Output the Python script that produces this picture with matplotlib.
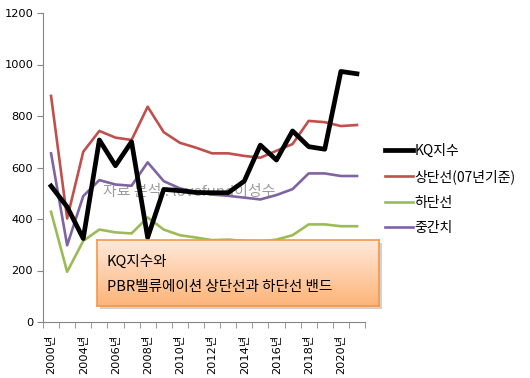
import matplotlib
matplotlib.use('Agg')
import matplotlib.pyplot as plt
import numpy as np
from matplotlib.patches import Rectangle

plt.rcParams['font.family'] = ['Noto Sans CJK KR', 'DejaVu Sans']

years = ['2000년', '2002년', '2004년', '2005년', '2006년', '2007년', '2008년', '2009년',
         '2010년', '2011년', '2012년', '2013년', '2014년', '2015년', '2016년', '2017년',
         '2018년', '2019년', '2020년', '2021년']
kq = [528, 447, 324, 707, 607, 700, 328, 515, 510, 503, 502, 502, 547, 687, 629, 742,
      681, 671, 973, 964]
upper = [878, 402, 661, 742, 716, 707, 836, 737, 696, 677, 655, 655, 645, 638, 665, 691,
         781, 776, 761, 765]
lower = [428, 195, 315, 359, 348, 344, 406, 359, 337, 328, 318, 320, 315, 312, 320, 337,
         379, 379, 372, 372]
mid = [655, 298, 489, 551, 534, 529, 620, 547, 519, 505, 495, 490, 483, 476, 493, 516,
       577, 577, 567, 567]
series_names = ['KQ지수', '상단선(07년기준)', '하단선', '중간치']
yticks = [0, 200, 400, 600, 800, 1000, 1200]

W, H = 530, 378
fig = plt.figure(figsize=(W / 100, H / 100), dpi=100)
ax = fig.add_axes([43 / W, 1 - 322 / H, 322 / W, 309 / H])
x = np.arange(len(years))

ax.text(103 / W, 1 - 192 / H, '자료 분석 : lovefund이성수', transform=fig.transFigure,
        fontsize=10.8, color='#8c8c8c', alpha=0.85, va='center', ha='left', zorder=1)

l1, = ax.plot(x, kq, color='black', lw=3.4, zorder=3)
l2, = ax.plot(x, upper, color='#C0504D', lw=1.9, zorder=2)
l3, = ax.plot(x, lower, color='#9BBB59', lw=1.9, zorder=2)
l4, = ax.plot(x, mid, color='#8064A2', lw=1.9, zorder=2)

ax.set_xlim(-0.5, len(years) - 0.5)
ax.set_ylim(0, 1200)
ax.set_yticks(yticks)
ax.set_yticklabels([str(v) for v in yticks], fontsize=8.2, family='DejaVu Sans')
ax.set_xticks(x)
ax.set_xticklabels([y if (i % 2 == 0) else '' for i, y in enumerate(years)],
                   rotation=90, fontsize=8.2, family=['DejaVu Sans', 'Noto Sans CJK KR'])
ax.set_xticks(np.arange(-0.5, len(years), 1), minor=True)
ax.tick_params(axis='x', which='major', length=0, pad=9)
ax.tick_params(axis='x', which='minor', length=4, color='#868686', direction='out')
ax.tick_params(axis='y', length=4, color='#868686', direction='out', pad=3)
for s in ['top', 'right']:
    ax.spines[s].set_visible(False)
for s in ['left', 'bottom']:
    ax.spines[s].set_color('#868686')

fig.legend([l1, l2, l3, l4], series_names, loc='center left',
           bbox_to_anchor=(385 / W, 1 - 189.5 / H), frameon=False, fontsize=10,
           handlelength=2.0, handletextpad=0.1, labelspacing=0.82, borderaxespad=0,
           borderpad=0)

# annotation box with shadow and gradient
bx0, bx1, by0, by1 = 97, 379, 240, 306
shadow = Rectangle(((bx0 + 3) / W, 1 - (by1 + 3) / H), (bx1 - bx0) / W, (by1 - by0) / H,
                   transform=fig.transFigure, facecolor='#808080', alpha=0.35,
                   edgecolor='none', zorder=5)
fig.patches.append(shadow)
bax = fig.add_axes([bx0 / W, 1 - by1 / H, (bx1 - bx0) / W, (by1 - by0) / H], zorder=10)
top = np.array([0xFF, 0xE9, 0xDA]) / 255
bot = np.array([0xFD, 0xB4, 0x79]) / 255
t = np.linspace(0, 1, 100)[:, None]
grad = top[None, :] * (1 - t) + bot[None, :] * t
bax.imshow(grad[:, None, :], aspect='auto', extent=[0, 1, 0, 1])
bax.set_xlim(0, 1)
bax.set_ylim(0, 1)
bax.set_xticks([])
bax.set_yticks([])
for s in bax.spines.values():
    s.set_color('#F79646')
    s.set_linewidth(1.2)
bax.text(10 / (bx1 - bx0), 1 - (262 - by0) / (by1 - by0), 'KQ지수와', fontsize=10.5,
         va='center', ha='left')
bax.text(10 / (bx1 - bx0), 1 - (287 - by0) / (by1 - by0), 'PBR밸류에이션 상단선과 하단선 밴드',
         fontsize=10.5, va='center', ha='left')

fig.savefig('out.png', dpi=100)
